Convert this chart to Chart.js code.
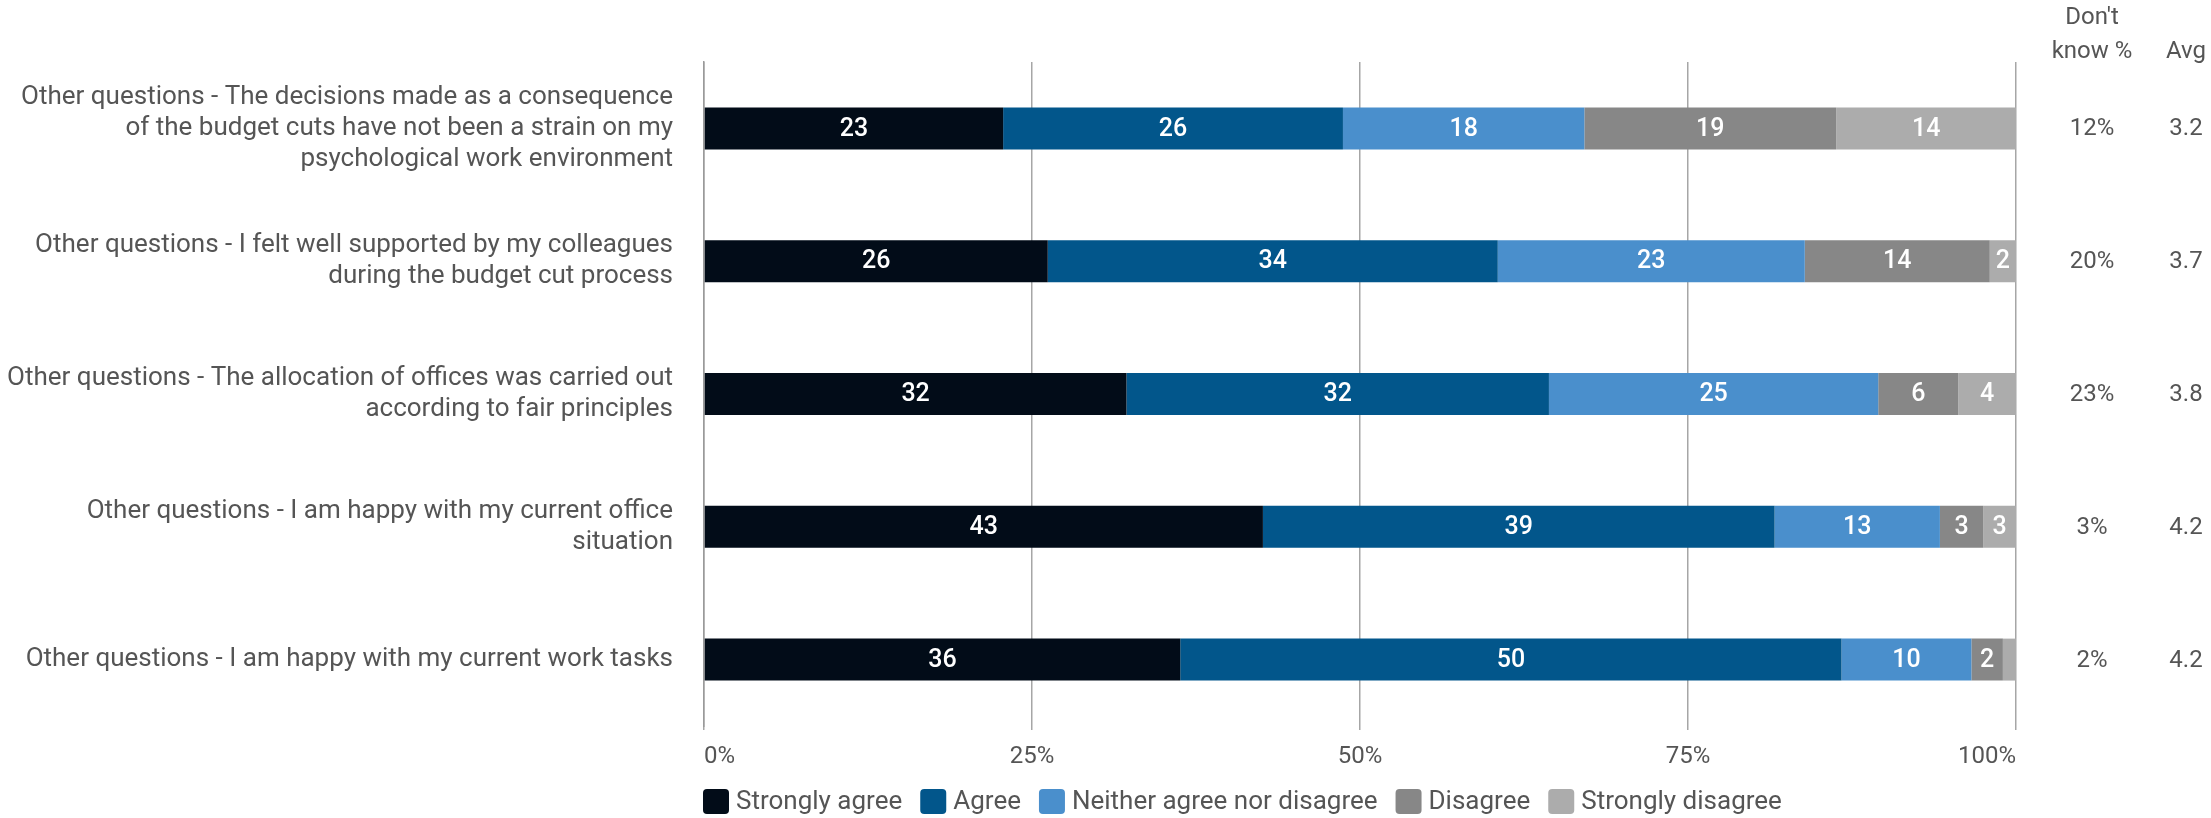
<!DOCTYPE html>
<html>
<head>
<meta charset="utf-8">
<script src="https://cdn.jsdelivr.net/npm/chart.js@4.4.1/dist/chart.umd.min.js"></script>
<style>
  html, body { margin: 0; padding: 0; background: #fff; }
  #wrap { width: 2211px; height: 818px; position: relative; }
</style>
</head>
<body>
<div id="wrap"><canvas id="likertChart"></canvas></div>
<script>
// Questions (y categories)
const questions = [
    ['Other questions - The decisions made as a consequence', 'of the budget cuts have not been a strain on my', 'psychological work environment'],
    ['Other questions - I felt well supported by my colleagues', 'during the budget cut process'],
    ['Other questions - The allocation of offices was carried out', 'according to fair principles'],
    ['Other questions - I am happy with my current office', 'situation'],
    'Other questions - I am happy with my current work tasks'
];

const responses = ['Strongly agree', 'Agree', 'Neither agree nor disagree', 'Disagree', 'Strongly disagree'];

// share of answers in %, one array per response
const stronglyAgree    = [22.8, 26.2, 32.2, 42.6, 36.3];
const agree            = [25.9, 34.3, 32.2, 39.0, 50.4];
const neither          = [18.4, 23.4, 25.1, 12.6, 9.9];
const disagree         = [19.2, 14.1, 6.1, 3.3, 2.4];
const stronglyDisagree = [13.7, 2.0, 4.4, 2.5, 1.0];

const dontKnow = ['12%', '20%', '23%', '3%', '2%'];
const averages = ['3.2', '3.7', '3.8', '4.2', '4.2'];

const xTicks = [0, 25, 50, 75, 100];

const palette = ['#020c18', '#02568b', '#4a8fcc', '#878787', '#acacac'];
const textColor = '#555555';
const fontFamily = 'Roboto, "Noto Sans", sans-serif';

const series = [stronglyAgree, agree, neither, disagree, stronglyDisagree];

// numbers inside the bars, the two columns on the right and the legend
const overlay = {
    id: 'overlay',
    afterDatasetsDraw(chart) {
        const ctx = chart.ctx;
        ctx.save();
        ctx.font = '500 25px ' + fontFamily;
        ctx.fillStyle = '#ffffff';
        ctx.textAlign = 'center';
        ctx.textBaseline = 'middle';
        chart.data.datasets.forEach((ds, di) => {
            chart.getDatasetMeta(di).data.forEach((bar, i) => {
                const v = ds.data[i];
                if (v < 1.5) return;
                ctx.fillText(Math.round(v), (bar.x + bar.base) / 2, bar.y + 1);
            });
        });
        ctx.restore();
    },
    afterDraw(chart) {
        const ctx = chart.ctx;
        const area = chart.chartArea;
        const y = chart.scales.y;
        const colDk = area.right + 76;
        const colAvg = area.right + 170;

        ctx.save();
        ctx.font = '24px ' + fontFamily;
        ctx.fillStyle = textColor;
        ctx.textAlign = 'center';
        ctx.textBaseline = 'middle';
        ctx.fillText("Don't", colDk, 18);
        ctx.fillText('know %', colDk, 52);
        ctx.fillText('Avg', colAvg, 52);
        questions.forEach((q, i) => {
            const py = y.getPixelForValue(i) + 1;
            ctx.fillText(dontKnow[i], colDk, py);
            ctx.fillText(averages[i], colAvg, py);
        });

        // legend
        ctx.font = '26px ' + fontFamily;
        let lx = area.left - 1;
        const ly = 801;
        ctx.textAlign = 'left';
        chart.data.datasets.forEach((ds) => {
            ctx.fillStyle = ds.backgroundColor;
            ctx.beginPath();
            ctx.roundRect(lx, ly - 12, 26, 25, 4);
            ctx.fill();
            lx += 33;
            ctx.fillStyle = textColor;
            ctx.fillText(ds.label, lx, ly + 1);
            lx += ctx.measureText(ds.label).width + 18;
        });
        ctx.restore();
    }
};

new Chart(document.getElementById('likertChart'), {
    type: 'bar',
    data: {
        labels: questions,
        datasets: series.map((data, i) => ({
            label: responses[i],
            data: data,
            backgroundColor: palette[i],
            borderWidth: 0,
            barPercentage: 0.316,
            categoryPercentage: 1
        }))
    },
    options: {
        indexAxis: 'y',
        responsive: true,
        maintainAspectRatio: false,
        animation: false,
        layout: {
            padding: { top: 62, right: 195, bottom: 52, left: 0 }
        },
        plugins: {
            legend: { display: false },
            tooltip: { enabled: false }
        },
        scales: {
            x: {
                stacked: true,
                min: 0,
                max: 100,
                afterBuildTicks(scale) {
                    scale.ticks = xTicks.map(v => ({ value: v }));
                },
                afterFit(scale) {
                    scale.height = 40;
                },
                grid: {
                    color: '#a6a6a6',
                    lineWidth: 1.5,
                    tickLength: 4
                },
                border: { display: false },
                ticks: {
                    align: 'inner',
                    padding: 13,
                    color: textColor,
                    font: { family: fontFamily, size: 24 },
                    callback: v => v + '%'
                }
            },
            y: {
                stacked: true,
                afterFit(scale) {
                    scale.width = 704;
                },
                grid: { display: false },
                border: { display: true, color: '#9a9a9a', width: 1.5 },
                ticks: {
                    padding: 23,
                    color: textColor,
                    font: { family: fontFamily, size: 26, lineHeight: 1.2 }
                }
            }
        }
    },
    plugins: [overlay]
});
</script>
</body>
</html>
